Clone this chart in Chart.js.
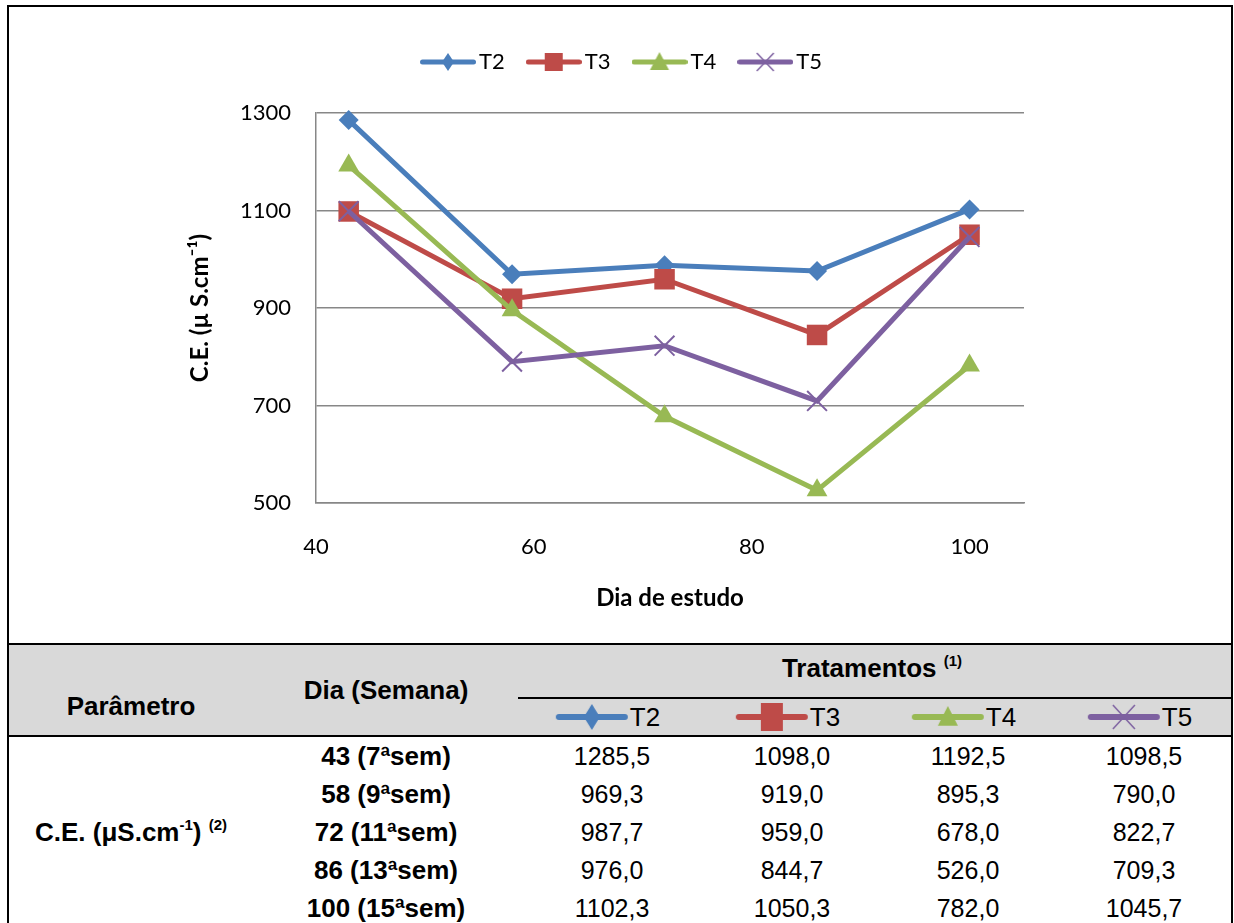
<!DOCTYPE html>
<html>
<head>
<meta charset="utf-8">
<script src="https://cdn.jsdelivr.net/npm/chart.js@4.4.0/dist/chart.umd.min.js"></script>
<style>
  body { margin: 0; width: 1234px; height: 923px; overflow: hidden; position: relative; background: #fff;
         font-family: "Liberation Sans", Arial, sans-serif; color: #000; }
  .abs { position: absolute; }
  .c { position: absolute; transform: translate(-50%, -50%); white-space: nowrap; line-height: 1; }
  .b { font-weight: bold; font-size: 26px; }
  .v { font-size: 25px; }
  sup { font-size: 15px; vertical-align: 0; position: relative; top: -11px; }
  .sub { position: absolute; transform: translate(-50%, -50%); display: flex; align-items: center; font-size: 26px; line-height: 1; }
  .sub span { margin-left: 2px; }
</style>
</head>
<body>
<div class="abs" style="left:7px;top:5px;width:1226px;height:960px;border:2px solid #000;border-bottom:none;box-sizing:border-box;"></div>
<div class="abs" style="left:9px;top:7px;width:1222px;height:636px;">
  <canvas id="chart" width="1222" height="636"></canvas>
</div>
<div class="abs" style="left:9px;top:643px;width:1222px;height:2px;background:#000;"></div>
<div class="abs" style="left:9px;top:645px;width:1222px;height:90px;background:#d9d9d9;"></div>
<div class="abs" style="left:9px;top:735px;width:1222px;height:2px;background:#000;"></div>
<div class="abs" style="left:518px;top:697px;width:713px;height:2px;background:#000;"></div>
<div id="table"></div>

<script>
"use strict";

// Chart data
const days = [43, 58, 72, 86, 100];
const weeks = ["7ª", "9ª", "11ª", "13ª", "15ª"];
const seriesNames = ["T2", "T3", "T4", "T5"];
const t2 = [1285.5, 969.3, 987.7, 976.0, 1102.3];
const t3 = [1098.0, 919.0, 959.0, 844.7, 1050.3];
const t4 = [1192.5, 895.3, 678.0, 526.0, 782.0];
const t5 = [1098.5, 790.0, 822.7, 709.3, 1045.7];
const xTicks = [40, 60, 80, 100];
const yTicks = [500, 700, 900, 1100, 1300];

const values = [t2, t3, t4, t5];
const colors = ["#4A7EBB", "#BE4B48", "#98B954", "#7D60A0"];
const markers = ["rectRot", "rect", "triangle", "crossRot"];
const radii = [10, 14.5, 12, 14];
const gridColor = "#878787";

// Small line + marker icon, used in the legend and in the table header
const makeIcon = (i, w, h, lw, mw, mh) => {
  const c = document.createElement("canvas");
  c.width = w;
  c.height = h;
  const ctx = c.getContext("2d");
  const cx = w / 2, cy = h / 2;
  ctx.strokeStyle = colors[i];
  ctx.fillStyle = colors[i];
  ctx.lineWidth = lw;
  ctx.lineCap = "round";
  ctx.beginPath();
  ctx.moveTo(lw / 2, cy);
  ctx.lineTo(w - lw / 2, cy);
  ctx.stroke();
  ctx.beginPath();
  if (i === 0) {
    ctx.moveTo(cx, cy - mh);
    ctx.lineTo(cx + mw, cy);
    ctx.lineTo(cx, cy + mh);
    ctx.lineTo(cx - mw, cy);
    ctx.fill();
  } else if (i === 1) {
    ctx.rect(cx - mw, cy - mh, mw * 2, mh * 2);
    ctx.fill();
  } else if (i === 2) {
    ctx.moveTo(cx, cy - mh);
    ctx.lineTo(cx + mw, cy + mh * 0.8);
    ctx.lineTo(cx - mw, cy + mh * 0.8);
    ctx.fill();
  } else {
    ctx.lineWidth = 1.5;
    ctx.lineCap = "butt";
    ctx.moveTo(cx - mw, cy - mh);
    ctx.lineTo(cx + mw, cy + mh);
    ctx.moveTo(cx + mw, cy - mh);
    ctx.lineTo(cx - mw, cy + mh);
    ctx.stroke();
  }
  return c;
};

const legendIcons = seriesNames.map((_, i) =>
  makeIcon(i, 56, 22, 5, [6, 9, 9.5, 8.5][i], [9, 9, 10, 9][i])
);

// Give the legend more room below it, and nudge it to the right
const legendSpacer = {
  id: "legendSpacer",
  beforeInit(chart) {
    const fit = chart.legend.fit;
    chart.legend.fit = function () {
      fit.call(this);
      this.height += 30;
    };
  },
  afterLayout(chart) {
    chart.legend.left += 20;
    chart.legend.right += 20;
  },
};

const ctx = document.getElementById("chart").getContext("2d");
const myChart = new Chart(ctx, {
  type: "line",
  data: {
    datasets: seriesNames.map((name, i) => ({
      label: name,
      data: days.map((d, j) => ({ x: d, y: values[i][j] })),
      borderColor: colors[i],
      backgroundColor: colors[i],
      borderWidth: 5,
      pointStyle: markers[i],
      pointRadius: radii[i],
      pointBackgroundColor: colors[i],
      pointBorderColor: colors[i],
      pointBorderWidth: i === 3 ? 2 : 0,
      // later series on top, as in the original
      order: 4 - i,
      tension: 0,
      clip: false,
    })),
  },
  options: {
    responsive: false,
    animation: false,
    layout: { padding: { top: 15, left: 177, right: 207, bottom: 30 } },
    plugins: {
      tooltip: { enabled: false },
      legend: {
        position: "top",
        labels: {
          usePointStyle: true,
          pointStyleWidth: 40,
          padding: 29,
          color: "#000",
          font: { family: "Lato", size: 22 },
          generateLabels: () =>
            seriesNames.map((name, i) => ({
              text: name,
              pointStyle: legendIcons[i],
              fillStyle: colors[i],
              strokeStyle: colors[i],
              lineWidth: 0,
              hidden: false,
              datasetIndex: i,
            })),
        },
      },
    },
    scales: {
      x: {
        type: "linear",
        min: 40,
        max: 105,
        afterBuildTicks: (s) => {
          s.ticks = xTicks.map((v) => ({ value: v }));
        },
        afterFit: (s) => {
          s.height = 110;
        },
        grid: { display: false, drawTicks: false, tickLength: 0 },
        border: { display: true, color: gridColor, width: 1.5 },
        ticks: {
          padding: 31,
          color: "#000",
          maxRotation: 0,
          autoSkip: false,
          font: { family: "Lato", size: 22 },
          callback: (v) => String(v),
        },
        title: {
          display: true,
          text: "Dia de estudo",
          color: "#000",
          padding: { top: 0, bottom: 0 },
          font: { family: "Lato", size: 24, weight: "bold" },
        },
      },
      y: {
        min: 500,
        max: 1300,
        afterBuildTicks: (s) => {
          s.ticks = yTicks.map((v) => ({ value: v }));
        },
        afterFit: (s) => {
          s.width = 130;
        },
        grid: { color: gridColor, lineWidth: 1.5, drawTicks: false, tickLength: 0 },
        border: { display: true, color: gridColor, width: 1.5 },
        ticks: {
          padding: 25,
          color: "#000",
          font: { family: "Lato", size: 22 },
          callback: (v) => String(v),
        },
        title: {
          display: true,
          text: "C.E. (µ S.cm⁻¹)",
          color: "#000",
          padding: { top: 0, bottom: 0 },
          font: { family: "Lato", size: 24, weight: "bold" },
        },
      },
    },
  },
  plugins: [legendSpacer],
});

// Table under the chart, built from the same arrays
const table = document.getElementById("table");
const colX = [612, 792, 968, 1144];
const rowY = [756, 794, 832, 870, 908];
const fmt = (v) => v.toFixed(1).replace(".", ",");

const addText = (html, x, y, cls) => {
  const d = document.createElement("div");
  d.className = "c " + cls;
  d.style.left = x + "px";
  d.style.top = y + "px";
  d.innerHTML = html;
  table.appendChild(d);
};

addText("Parâmetro", 131, 706, "b");
addText("Dia (Semana)", 386, 690, "b");
addText("Tratamentos <sup>(1)</sup>", 872, 668, "b");

seriesNames.forEach((name, i) => {
  const d = document.createElement("div");
  d.className = "sub";
  d.style.left = colX[i] - 4 + "px";
  d.style.top = "717px";
  d.appendChild(makeIcon(i, 72, 30, 6, [8, 11, 10, 11][i], [13, 14, 11, 12][i]));
  const s = document.createElement("span");
  s.textContent = name;
  d.appendChild(s);
  table.appendChild(d);
});

days.forEach((day, j) => {
  addText(day + " (" + weeks[j] + "sem)", 386, rowY[j], "b");
  values.forEach((vals, i) => addText(fmt(vals[j]), colX[i], rowY[j], "v"));
});

addText("C.E. (μS.cm<sup>-1</sup>) <sup>(2)</sup>", 131, 832, "b");
</script>
</body>
</html>
